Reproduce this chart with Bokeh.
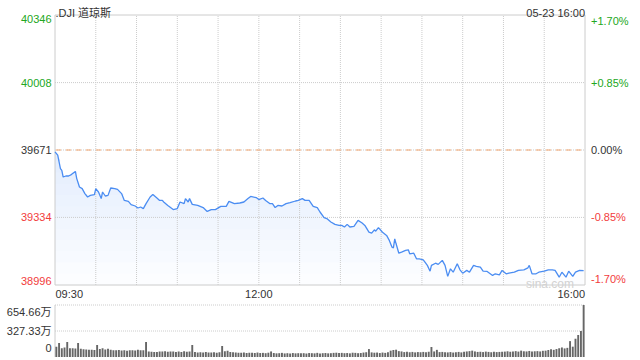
from bokeh.plotting import figure
from bokeh.models import Range1d, Label
from bokeh.embed import file_html
from bokeh.resources import INLINE

# ---------------- data ----------------
title_text = ".DJI 道琼斯"
date_text = "05-23 16:00"
prev_close = 39671
left_ticks = [40346, 40008, 39671, 39334, 38996]
left_labels = ["40346", "40008", "39671", "39334", "38996"]
right_labels = ["+1.70%", "+0.85%", "0.00%", "-0.85%", "-1.70%"]
time_ticks = [0, 150, 390]              # minutes after 09:30
time_labels = ["09:30", "12:00", "16:00"]
grid_minutes = [30, 60, 90, 120, 150, 180, 210, 240, 270, 300, 330, 360]

minutes = [0, 2, 4, 5, 6, 8, 10, 12, 15, 16, 18, 20, 22, 24, 26, 29, 30, 32, 34, 35,
           37, 39, 41, 44, 46, 49, 51, 54, 56, 59, 61, 63, 65, 67, 70, 72, 75, 77, 79, 80,
           83, 87, 90, 92, 95, 96, 98, 99, 101, 105, 109, 112, 115, 118, 122, 126, 128, 132, 136, 139,
           142, 144, 148, 150, 153, 155, 158, 160, 162, 164, 167, 170, 173, 177, 179, 182, 184, 187, 190, 193,
           195, 198, 200, 203, 206, 209, 211, 213, 215, 217, 220, 223, 226, 228, 231, 233, 235, 236, 238, 241,
           244, 246, 248, 249, 250, 251, 253, 255, 258, 260, 261, 264, 266, 268, 271, 274, 276, 277, 280, 282,
           285, 287, 289, 291, 293, 296, 298, 300, 303, 305, 308, 310, 313, 315, 318, 322, 324, 327, 329, 332,
           334, 338, 341, 345, 348, 349, 351, 354, 356, 360, 363, 366, 368, 371, 373, 376, 378, 381, 383, 386,
           389]
price = [39662, 39645, 39578, 39569, 39536, 39541, 39541, 39548, 39564, 39528, 39486, 39478, 39453, 39436, 39444, 39448, 39478, 39461, 39428, 39461,
         39441, 39444, 39481, 39478, 39474, 39453, 39419, 39414, 39398, 39391, 39381, 39386, 39378, 39403, 39436, 39448, 39431, 39419, 39419, 39411,
         39394, 39373, 39378, 39411, 39403, 39428, 39411, 39428, 39399, 39394, 39383, 39364, 39373, 39373, 39389, 39389, 39414, 39403, 39406, 39411,
         39428, 39439, 39433, 39423, 39431, 39419, 39403, 39403, 39383, 39394, 39391, 39403, 39408, 39416, 39419, 39428, 39419, 39419, 39389, 39383,
         39361, 39333, 39328, 39311, 39299, 39294, 39294, 39286, 39299, 39286, 39289, 39319, 39306, 39294, 39260, 39255, 39272, 39265, 39283, 39260,
         39244, 39219, 39185, 39182, 39227, 39202, 39155, 39160, 39169, 39172, 39152, 39155, 39127, 39127, 39122, 39094, 39065, 39094, 39105, 39099,
         39119, 39094, 39039, 39077, 39060, 39102, 39072, 39055, 39069, 39060, 39094, 39089, 39085, 39065, 39064, 39044, 39052, 39047, 39069, 39052,
         39055, 39060, 39069, 39072, 39082, 39094, 39052, 39052, 39060, 39065, 39072, 39072, 39069, 39035, 39060, 39035, 39065, 39039, 39060, 39069,
         39068]

# volume, one bar per 2 minutes, in 万
volume = [130, 176, 110, 120, 188, 110, 110, 108, 176, 105, 97, 95, 92, 90, 88,
          150, 100, 110, 95, 105, 92, 85, 84, 88, 82, 84, 80, 86, 84, 82,
          90, 84, 86, 190, 70, 66, 64, 62, 68, 70, 72, 66, 70, 68, 64,
          68, 64, 72, 66, 70, 150, 62, 58, 60, 56, 62, 58, 56, 60, 55,
          60, 140, 72, 80, 64, 60, 56, 52, 55, 58, 50, 54, 52, 50, 56,
          50, 52, 48, 54, 70, 50, 46, 48, 52, 45, 48, 44, 50, 46, 48,
          46, 48, 44, 50, 48, 46, 52, 44, 48, 50, 46, 48, 52, 54, 50,
          52, 48, 50, 46, 54, 52, 48, 50, 56, 60, 100, 58, 54, 56, 50,
          56, 52, 60, 80, 88, 92, 74, 70, 62, 66, 60, 64, 58, 62, 60,
          64, 60, 66, 126, 70, 90, 62, 64, 60, 58, 62, 56, 60, 64, 58,
          66, 70, 74, 80, 70, 64, 66, 62, 68, 64, 60, 66, 62, 64, 66,
          68, 72, 66, 70, 74, 68, 80, 72, 70, 76, 68, 72, 74, 70, 78,
          80, 88, 96, 90, 100, 110, 120, 108, 115, 200, 130, 230, 277, 327, 654.66]
vol_minutes = [1 + 2 * i for i in range(len(volume))]
vol_ticks = [654.66, 327.33, 0]
vol_labels = ["654.66万", "327.33万", "0"]

# ---------------- layout (pixels) ----------------
W, H = 636, 358
PX_LEFT, PX_RIGHT = 54.5, 584.5        # minute 0 / minute 390
PX_TOP, PX_BOT = 14.5, 284.5           # 40346 / 38996
VPX_TOP, VPX_BOT = 304.5, 356.5        # volume max / 0

# ---------------- style ----------------
GREEN = "#22a722"
RED = "#f23c3c"
DARK = "#333333"
GRID = "#cccccc"
FONT = "Liberation Sans, Noto Sans CJK SC"
label_colors = [GREEN, GREEN, DARK, RED, RED]
label_baselines = ["top", "middle", "middle", "middle", "bottom"]

t0, t1 = time_ticks[0], time_ticks[-1]
y_lo, y_hi = left_ticks[-1], left_ticks[0]
upx = (t1 - t0) / (PX_RIGHT - PX_LEFT)
upy = (y_hi - y_lo) / (PX_BOT - PX_TOP)
vmax = vol_ticks[0]
vupy = vmax / (VPX_BOT - VPX_TOP)

x_range = Range1d(t0 - PX_LEFT * upx, t0 + (W - PX_LEFT) * upx)
y_range = Range1d(y_lo - (H - PX_BOT) * upy, y_hi + PX_TOP * upy)
vol_range = Range1d(0 - (H - VPX_BOT) * vupy, vmax + VPX_TOP * vupy)

p = figure(width=W, height=H, x_range=x_range, y_range=y_range,
           min_border=0, min_border_left=0, min_border_right=0, min_border_top=0, min_border_bottom=0,
           x_axis_location=None, y_axis_location=None, toolbar_location=None,
           output_backend="svg", outline_line_color=None,
           background_fill_color="white", border_fill_color="white")
p.extra_y_ranges = {"vol": vol_range}
p.grid.visible = False

# gradient-like fill under the price line
n_bands = 12
c_top = (0xe3, 0xed, 0xfd)
c_bot = (0xfc, 0xfd, 0xff)
for k in range(n_bands):
    lo = y_lo + (prev_close - y_lo) * k / n_bands
    f = k / (n_bands - 1)
    col = "#%02x%02x%02x" % tuple(int(round(c_bot[i] + (c_top[i] - c_bot[i]) * f)) for i in range(3))
    p.varea(x=minutes, y1=[lo] * len(minutes), y2=[max(v, lo) for v in price],
            fill_color=col, fill_alpha=1.0)

# grid of the price panel
ng = len(grid_minutes)
p.segment(x0=grid_minutes, y0=[y_lo] * ng, x1=grid_minutes, y1=[y_hi] * ng,
          line_color=GRID, line_dash="1 1", line_width=1)
h_grid = left_ticks[1:4]
p.segment(x0=[t0] * 3, y0=h_grid, x1=[t1] * 3, y1=h_grid, line_color=GRID, line_dash="1 1", line_width=1)
p.segment(x0=[t0], y0=[prev_close], x1=[t1], y1=[prev_close], line_color="#f5a66e",
          line_dash="5 5", line_dash_offset=-1, line_width=1)
p.quad(left=[t0], right=[t1], bottom=[y_lo], top=[y_hi], fill_color=None,
       line_color="#cccccc", line_width=1)

p.line(minutes, price, line_color="#4b8df2", line_width=1.3)

# volume panel
p.segment(x0=[t0, t0], y0=vol_ticks[:2], x1=[t1, t1], y1=vol_ticks[:2],
          line_color=GRID, line_dash="1 1", line_width=1, y_range_name="vol")
p.segment(x0=[t0], y0=[0], x1=[t0], y1=[vmax], line_color="#cccccc", line_width=1, y_range_name="vol")
p.vbar(x=vol_minutes, top=volume, width=1.4, bottom=0, fill_color="#666666", line_color=None,
       y_range_name="vol")

# texts
for t, txt, col, base in zip(left_ticks, left_labels, label_colors, label_baselines):
    p.add_layout(Label(x=t0, y=t, x_offset=-3.5, text=txt, text_align="right", text_baseline=base,
                       text_color=col, text_font=FONT, text_font_size="11px"))
for t, txt, col, base in zip(left_ticks, right_labels, label_colors, label_baselines):
    p.add_layout(Label(x=t1, y=t, x_offset=6, text=txt, text_align="left", text_baseline=base,
                       text_color=col, text_font=FONT, text_font_size="11px"))
for t, txt, al in zip(time_ticks, time_labels, ["left", "center", "right"]):
    p.add_layout(Label(x=t, y=y_lo, x_offset=0.5 if al == "left" else 0, y_offset=-2.5, text=txt,
                       text_align=al, text_baseline="top",
                       text_color=DARK, text_font=FONT, text_font_size="11px"))
p.add_layout(Label(x=t0, y=y_hi, x_offset=0.5, y_offset=2, text=title_text, text_align="left",
                   text_baseline="alphabetic", text_color=DARK, text_font=FONT, text_font_size="11px"))
p.add_layout(Label(x=t1, y=y_hi, y_offset=2, text=date_text, text_align="right",
                   text_baseline="alphabetic", text_color=DARK, text_font=FONT, text_font_size="11px"))
p.add_layout(Label(x=t1, y=y_lo, x_offset=-11, y_offset=1.5, text="sina.com", text_align="right",
                   text_baseline="alphabetic", text_color="#d2d2d2", text_font=FONT, text_font_size="12px"))
for t, txt, base, off in zip(vol_ticks, vol_labels, ["top", "middle", "bottom"], [-1, 0, 5]):
    p.add_layout(Label(x=t0, y=t, x_offset=-3.5, y_offset=off, text=txt, text_align="right",
                       text_baseline=base, y_range_name="vol",
                       text_color=DARK, text_font=FONT, text_font_size="11px"))

open("out.html", "w").write(file_html(p, INLINE))
